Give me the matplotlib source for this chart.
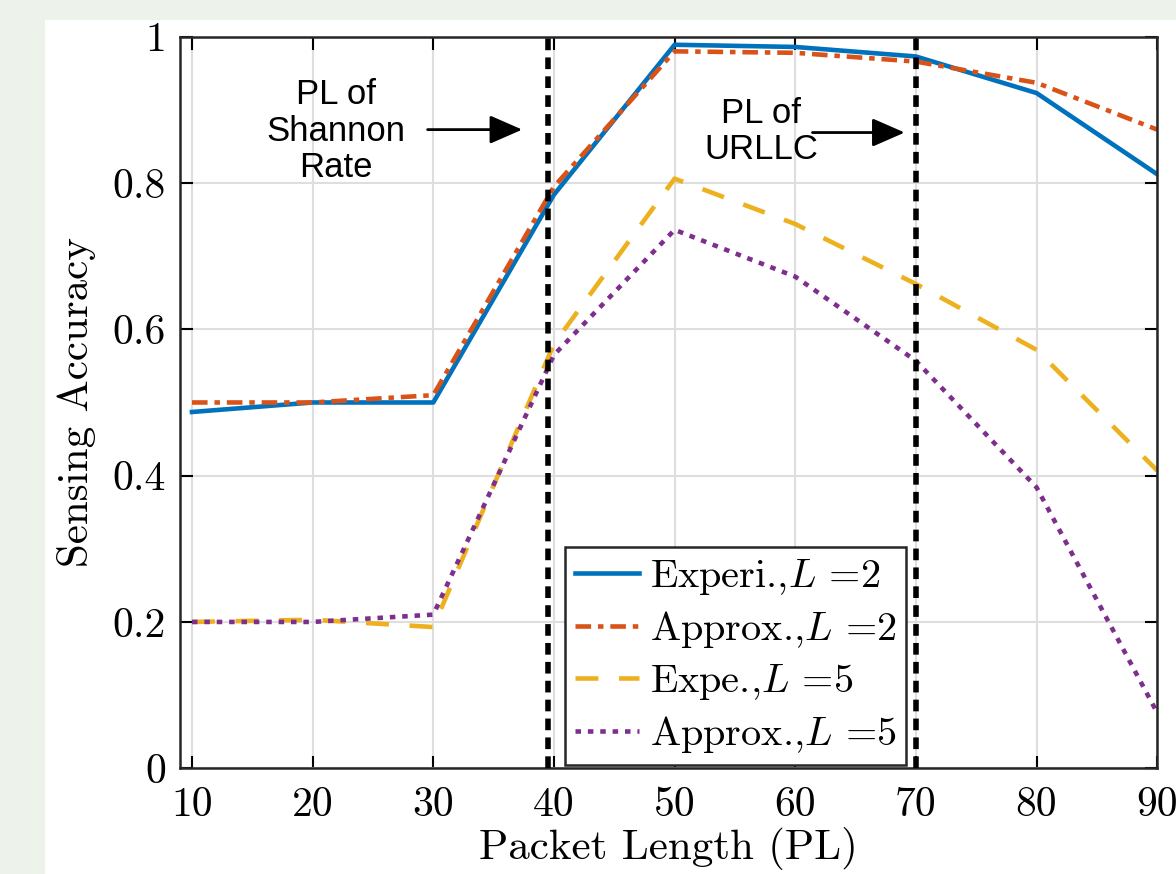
import matplotlib
matplotlib.use("Agg")
import matplotlib.pyplot as plt
from matplotlib.patches import Rectangle

# data
packet_len = [10, 20, 30, 40, 50, 60, 70, 80, 90]
experi_l2 = [0.487, 0.500, 0.500, 0.784, 0.989, 0.986, 0.973, 0.923, 0.812]
approx_l2 = [0.500, 0.500, 0.510, 0.795, 0.980, 0.978, 0.966, 0.937, 0.873]
expe_l5 = [0.200, 0.203, 0.193, 0.580, 0.806, 0.744, 0.662, 0.572, 0.407]
approx_l5 = [0.200, 0.200, 0.210, 0.565, 0.736, 0.672, 0.557, 0.384, 0.076]
pl_shannon = 39.5
pl_urllc = 70
x_ticks = [10, 20, 30, 40, 50, 60, 70, 80, 90]
y_ticks = [0, 0.2, 0.4, 0.6, 0.8, 1]
y_tick_labels = ["0", "0.2", "0.4", "0.6", "0.8", "1"]

plt.rcParams['font.family'] = ['cmr10', 'DejaVu Serif']
plt.rcParams['mathtext.fontset'] = 'cm'
plt.rcParams['axes.unicode_minus'] = False

fig = plt.figure(figsize=(11.76, 8.74), dpi=100, facecolor='#edf3ea')
# white page area on the green background
page = Rectangle((45/1176, 0), 1, 1 - 20/874, transform=fig.transFigure,
                 facecolor='white', edgecolor='none', zorder=-10)
fig.add_artist(page)

ax = fig.add_axes([0.153, 0.121, 0.831, 0.837])
ax.set_facecolor('white')
ax.grid(True, color='#dedede', linewidth=1.5)
ax.set_axisbelow(True)

ax.plot(packet_len, experi_l2, color='#0072BD', lw=3.3, label=r'Experi.,$L$ =2')
ax.plot(packet_len, approx_l2, color='#D95319', lw=3.3, dashes=(3.4, 1.5, 1.2, 1.5),
        label=r'Approx.,$L$ =2')
ax.plot(packet_len, expe_l5, color='#EDB120', lw=3.3, dashes=(5, 4.5),
        label=r'Expe.,$L$ =5')
ax.plot(packet_len, approx_l5, color='#7E2F8E', lw=3.3, dashes=(1.2, 1.5),
        label=r'Approx.,$L$ =5')

ax.axvline(pl_shannon, color='black', lw=4, dashes=(2.1, 1.3), zorder=3)
ax.axvline(pl_urllc, color='black', lw=4, dashes=(2.1, 1.3), zorder=3)

ann_font = dict(family=['Liberation Sans', 'DejaVu Sans'], fontsize=25,
                ha='center', va='center', linespacing=1.12)
ax.text(21.9, 0.871, "PL of\nShannon\nRate", **ann_font)
ax.annotate("", xy=(37.6, 0.873), xytext=(29.3, 0.873),
            arrowprops=dict(arrowstyle='-|>,head_length=0.8,head_width=0.35',
                            color='black', lw=2, mutation_scale=25))
ax.text(57.2, 0.870, "PL of\nURLLC", **ann_font)
ax.annotate("", xy=(69.3, 0.869), xytext=(61.2, 0.869),
            arrowprops=dict(arrowstyle='-|>,head_length=0.8,head_width=0.35',
                            color='black', lw=2, mutation_scale=25))

ax.set_xlim(9, 90)
ax.set_ylim(0, 1)
ax.set_xticks(x_ticks)
ax.set_yticks(y_ticks)
ax.set_yticklabels(y_tick_labels)
ax.tick_params(direction='in', top=True, right=True, length=9, width=1.5,
               labelsize=30)
ax.tick_params(axis='x', pad=13)
ax.tick_params(axis='y', pad=10)
for s in ax.spines.values():
    s.set_linewidth(1.8)
    s.set_color('#262626')

ax.set_xlabel("Packet Length (PL)", fontsize=31, labelpad=2)
ax.set_ylabel("Sensing Accuracy", fontsize=31, labelpad=12)

leg = ax.legend(loc='lower left', bbox_to_anchor=(0.394, 0.004), fontsize=29,
                frameon=True, fancybox=False, framealpha=1, edgecolor='#262626',
                handlelength=1.6, handletextpad=0.25, borderpad=0.25,
                labelspacing=0.3, borderaxespad=0)
leg.get_frame().set_linewidth(1.8)

fig.savefig("out.png", dpi=100, facecolor=fig.get_facecolor())
